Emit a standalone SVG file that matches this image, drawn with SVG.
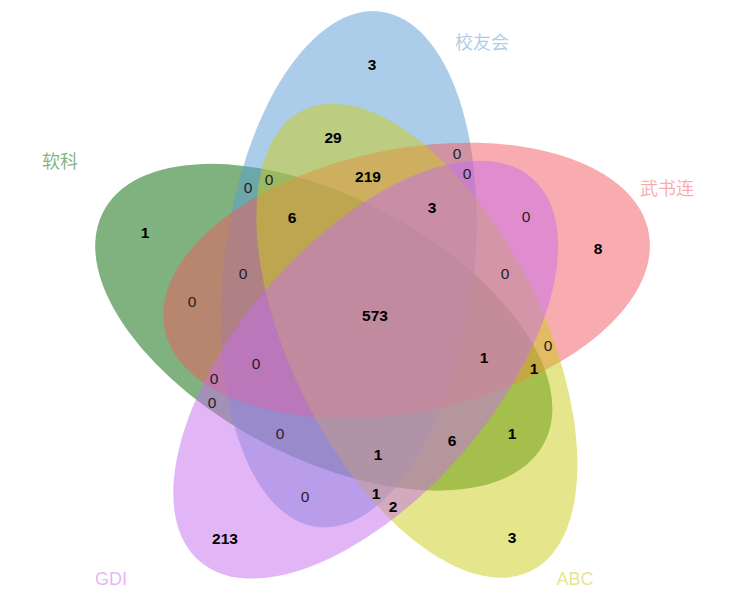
<svg xmlns="http://www.w3.org/2000/svg" width="746" height="602" viewBox="0 0 746 602">
<style>
.set{fill-opacity:0.5;stroke:none}
.n{font-family:"Liberation Sans",Arial,sans-serif;font-size:15.5px;text-anchor:middle;fill:#000;font-weight:bold}
.z{font-weight:normal;fill:#222}
.lab{font-family:"Liberation Sans","Noto Sans CJK SC",sans-serif;font-size:18px;text-anchor:middle;fill-opacity:0.5}
</style>
<rect width="746" height="602" fill="#fff"/>
<g id="sets" transform="translate(372.4,318) scale(1,1.055)">
  <g id="set-ruanke"><ellipse class="set" cx="0" cy="0" rx="246.3" ry="124.8" fill="rgb(0,102,0)" transform="translate(-48.62,8.75) rotate(25.6)"/></g>
  <g id="set-xiaoyouhui"><ellipse class="set" cx="0" cy="0" rx="246.3" ry="124.8" fill="rgb(90,155,212)" transform="translate(-23.6,-46.2) rotate(-82.4)"/></g>
  <g id="set-wushulian"><ellipse class="set" cx="0" cy="0" rx="246.3" ry="124.8" fill="rgb(241,90,96)" transform="translate(34.19,-35.66) rotate(-10.4)"/></g>
  <g id="set-abc"><ellipse class="set" cx="0" cy="0" rx="246.3" ry="124.8" fill="rgb(204,204,26)" transform="translate(44.48,21.5) rotate(61.6)"/></g>
  <g id="set-gdi"><ellipse class="set" cx="0" cy="0" rx="246.3" ry="124.8" fill="rgb(198,110,238)" transform="translate(-6.7,48.94) rotate(-46.4)"/></g>
</g>
<g id="labels">
  <text class="lab" x="482" y="49" fill="rgb(90,155,212)">校友会</text>
  <text class="lab" x="667" y="195" fill="rgb(241,90,96)">武书连</text>
  <text class="lab" x="60" y="168" fill="rgb(0,102,0)">软科</text>
  <text class="lab" x="111" y="585" fill="rgb(198,110,238)">GDI</text>
  <text class="lab" x="575" y="585" fill="rgb(204,204,26)">ABC</text>
</g>
<g id="counts">
  <text class="n" x="372" y="70">3</text>
  <text class="n" x="333" y="143">29</text>
  <text class="n" x="368" y="182">219</text>
  <text class="n z" x="457" y="159">0</text>
  <text class="n z" x="467" y="179">0</text>
  <text class="n" x="432" y="213">3</text>
  <text class="n z" x="248" y="193">0</text>
  <text class="n z" x="269" y="185">0</text>
  <text class="n" x="292" y="223">6</text>
  <text class="n" x="145" y="238">1</text>
  <text class="n z" x="526" y="222">0</text>
  <text class="n" x="598" y="254">8</text>
  <text class="n z" x="243" y="279">0</text>
  <text class="n z" x="505" y="279">0</text>
  <text class="n z" x="192" y="307">0</text>
  <text class="n" x="375" y="321">573</text>
  <text class="n z" x="548" y="351">0</text>
  <text class="n" x="484" y="363">1</text>
  <text class="n" x="534" y="374">1</text>
  <text class="n z" x="256" y="369">0</text>
  <text class="n z" x="214" y="384">0</text>
  <text class="n z" x="212" y="408">0</text>
  <text class="n z" x="280" y="439">0</text>
  <text class="n" x="512" y="439">1</text>
  <text class="n" x="452" y="446">6</text>
  <text class="n" x="378" y="460">1</text>
  <text class="n z" x="305" y="502">0</text>
  <text class="n" x="376" y="499">1</text>
  <text class="n" x="393" y="512">2</text>
  <text class="n" x="225" y="544">213</text>
  <text class="n" x="512" y="543">3</text>
</g>
</svg>
